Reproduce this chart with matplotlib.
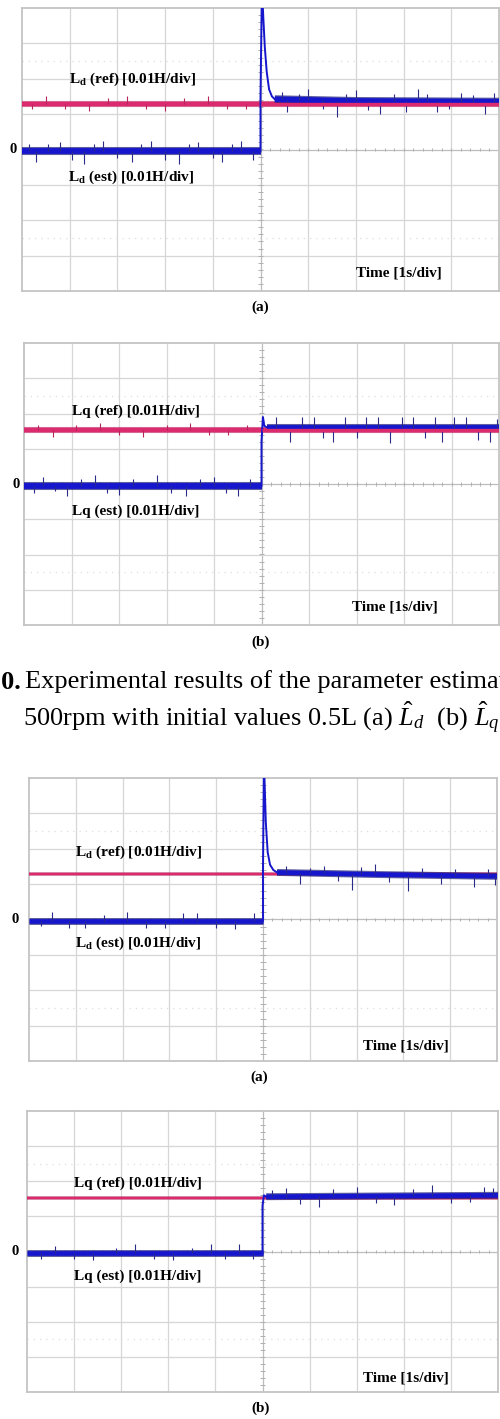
import matplotlib
matplotlib.use("Agg")
import matplotlib.pyplot as plt
import matplotlib.patheffects as pe
import numpy as np

plt.rcParams["font.family"] = ["Liberation Serif", "DejaVu Serif"]
plt.rcParams["mathtext.fontset"] = "custom"
plt.rcParams["mathtext.rm"] = "Liberation Serif"
plt.rcParams["mathtext.it"] = "Liberation Serif:italic"
plt.rcParams["mathtext.bf"] = "Liberation Serif:bold"

REF_COLOR = "#dc2a6e"
REF_EDGE = "#b8245e"
EST_COLOR = "#1616cc"
EST_EDGE = "#1c1c78"
SPIKE_COLOR = "#2a2a88"
GRID_COLOR = "#d6d6d6"

# --- data (levels in divisions, time in seconds = divisions) ---
PANEL_TAGS = ["(a)", "(b)", "(a)", "(b)"]
PANEL_NAMES = ["L$_\\mathbf{d}$", "Lq", "L$_\\mathbf{d}$", "Lq"]

REF_LEVELS = [1.30, 1.53, 1.29, 1.51]

# estimated trace: level before the step, transient after it, settled part
EST_BEFORE = [-0.05, -0.05, -0.03, -0.05]
EST_STEP_T = [
    [5.0, 5.0, 5.03, 5.06, 5.09, 5.13, 5.18, 5.24, 5.30],
    [5.0, 5.0, 5.03, 5.06, 5.12],
    [5.0, 5.0, 5.02, 5.06, 5.10, 5.15, 5.22, 5.30],
    [5.0, 5.0, 5.03, 5.08],
]
EST_STEP_V = [
    [-0.05, 1.5, 4.6, 3.7, 2.9, 2.2, 1.7, 1.5, 1.42],
    [-0.05, 1.2, 1.9, 1.65, 1.60],
    [-0.03, 1.5, 4.5, 2.75, 1.9, 1.55, 1.40, 1.33],
    [-0.05, 1.3, 1.6, 1.56],
]
EST_AFTER_T = [
    [5.30, 7.0, 10.0],
    [5.12, 7.5, 10.0],
    [5.30, 7.5, 10.0],
    [5.08, 7.5, 10.0],
]
EST_AFTER_V = [
    [1.42, 1.37, 1.35],
    [1.60, 1.60, 1.60],
    [1.33, 1.27, 1.22],
    [1.56, 1.58, 1.60],
]

# visible outlier spikes on the estimated trace (t, offset in div)
EST_SPIKES = [
    [(0.15, 0.2), (0.3, -0.3), (0.55, 0.2), (0.8, 0.25), (1.05, -0.25), (1.3, -0.35),
     (1.5, 0.2), (1.7, 0.3), (2.0, -0.2), (2.3, -0.3), (2.5, 0.2), (2.7, 0.3),
     (3.0, -0.25), (3.3, -0.35), (3.5, 0.2), (3.7, 0.25), (4.0, -0.2), (4.2, -0.3),
     (4.4, 0.2), (4.6, 0.3), (4.85, -0.25),
     (5.45, 0.2), (5.55, -0.35), (5.8, 0.15), (6.0, 0.3), (6.3, -0.25), (6.6, -0.45),
     (6.8, 0.2), (7.0, 0.3), (7.25, -0.25), (7.5, -0.35), (7.8, 0.2), (8.05, -0.3),
     (8.3, 0.35), (8.5, 0.2), (8.7, -0.3), (8.95, -0.2), (9.2, 0.25), (9.45, 0.2),
     (9.7, -0.35), (9.9, 0.25)],
    [(0.2, -0.2), (0.4, 0.25), (0.65, -0.15), (0.9, -0.3), (1.2, 0.2), (1.5, 0.3),
     (1.75, -0.2), (2.0, -0.25), (2.3, 0.2), (2.8, 0.3), (3.1, -0.2), (3.4, -0.3),
     (3.7, 0.2), (4.0, 0.25), (4.25, -0.2), (4.5, -0.3), (4.75, 0.2),
     (5.3, 0.3), (5.6, -0.4), (5.85, 0.3), (6.1, 0.3), (6.3, -0.3), (6.5, -0.4),
     (6.75, 0.3), (7.0, -0.3), (7.2, 0.3), (7.45, 0.3), (7.7, -0.45), (7.95, 0.3),
     (8.2, 0.3), (8.45, -0.3), (8.65, 0.3), (8.8, -0.4), (9.05, 0.3), (9.3, 0.3),
     (9.55, -0.35), (9.8, -0.4), (9.95, 0.25)],
    [(0.25, -0.15), (0.5, 0.25), (0.85, -0.2), (1.2, -0.2), (1.6, 0.15), (2.1, 0.25),
     (2.5, -0.2), (2.9, -0.2), (3.3, 0.2), (3.6, 0.2), (4.0, -0.2), (4.4, -0.25),
     (4.8, 0.2),
     (5.5, 0.2), (5.8, -0.3), (6.0, 0.15), (6.3, 0.2), (6.6, -0.2), (6.9, -0.45),
     (7.1, 0.2), (7.4, 0.3), (7.7, -0.2), (8.1, -0.45), (8.4, 0.2), (8.8, -0.25),
     (9.1, 0.2), (9.5, -0.3), (9.8, 0.2), (9.95, -0.25)],
    [(0.3, -0.15), (0.6, 0.2), (1.0, -0.15), (1.4, -0.2), (1.9, 0.15), (2.3, 0.25),
     (2.7, -0.15), (3.1, -0.2), (3.5, 0.15), (3.9, 0.25), (4.2, -0.15), (4.5, 0.25),
     (4.8, -0.15),
     (5.2, 0.2), (5.5, 0.25), (5.8, -0.2), (6.2, -0.3), (6.5, 0.2), (7.0, 0.25),
     (7.4, -0.2), (7.8, -0.25), (8.2, 0.2), (8.6, 0.3), (9.0, -0.2), (9.4, -0.2),
     (9.7, 0.25), (9.9, 0.2)],
]

REF_SPIKES = [
    [(0.2, -0.15), (0.5, 0.2), (0.9, -0.15), (1.4, -0.2), (1.8, 0.15), (2.2, 0.2),
     (2.6, -0.15), (3.0, -0.2), (3.4, 0.15), (3.9, 0.2), (4.3, -0.15), (4.7, -0.15)],
    [(0.3, 0.15), (0.6, -0.2), (1.1, 0.15), (1.6, 0.2), (2.0, -0.15), (2.5, -0.2),
     (3.0, 0.15), (3.5, 0.2), (3.9, -0.15), (4.3, -0.15), (4.7, 0.15)],
    [],
    [],
]

REF_WIDTH = [3.2, 3.2, 1.5, 1.5]
EST_WIDTH = [4.2, 4.2, 3.4, 3.4]

# axes rectangles in figure pixels: left, top, right, bottom
PANEL_BOX = [(22, 8, 499, 291), (24, 343, 499, 625),
             (29, 778, 497, 1061), (27, 1111, 498, 1392)]
TAG_POS = [(260, 307), (261, 642), (259, 1077), (261, 1408)]
REF_LABEL = [(0.99, 1.98), (1.01, 2.07), (0.98, 1.9), (1.0, 1.93)]
EST_LABEL = [(0.96, -0.79), (1.01, -0.76), (0.98, -0.68), (1.0, -0.71)]
TIME_LABEL = [(7.0, -3.5), (6.9, -3.48), (7.13, -3.57), (7.14, -3.6)]
ZERO_X = [-0.19, -0.17, -0.29, -0.25]

W, H = 500, 1419
fig = plt.figure(figsize=(W / 100, H / 100), dpi=100, facecolor="white")

for i in range(4):
    l, t, r, b = PANEL_BOX[i]
    ax = fig.add_axes([l / W, 1 - b / H, (r - l) / W, (b - t) / H])
    ax.set_xlim(0, 10)
    ax.set_ylim(-4, 4)
    ax.set_xticks([])
    ax.set_yticks([])
    for sp in ax.spines.values():
        sp.set_color("#c4c4c4")
        sp.set_linewidth(1.3)

    for x in range(1, 10):
        ax.axvline(x, color=GRID_COLOR if x != 5 else "#bdbdbd", lw=0.9, zorder=1)
    for y in range(-3, 4):
        ax.axhline(y, color=GRID_COLOR if y != 0 else "#bdbdbd", lw=0.9, zorder=1)
    for y in (-2.5, 2.5):
        ax.axhline(y, color="#dedede", lw=0.9, ls=(0, (1, 4)), zorder=1)
    # minor ticks on the centre lines
    ax.hlines(np.arange(-3.8, 4.0, 0.2), 4.94, 5.06, color="#b0b0b0", lw=0.7, zorder=1)
    ax.vlines(np.arange(0.2, 10.0, 0.2), -0.05, 0.05, color="#b0b0b0", lw=0.7, zorder=1)

    ref = REF_LEVELS[i]
    ref_fx = [pe.Stroke(linewidth=REF_WIDTH[i] + 1.2, foreground=REF_EDGE, alpha=0.6), pe.Normal()]
    est_fx = [pe.Stroke(linewidth=EST_WIDTH[i] + 1.6, foreground=EST_EDGE, alpha=0.7), pe.Normal()]

    # reference trace
    ax.plot([0, 10], [ref, ref], color=REF_COLOR, lw=REF_WIDTH[i], solid_capstyle="butt",
            path_effects=ref_fx, zorder=3)
    for st, dv in REF_SPIKES[i]:
        ax.vlines(st, ref, ref + dv, color=REF_EDGE, lw=0.8, zorder=3)

    # estimated trace
    before = EST_BEFORE[i]
    ax.plot([0, 5.0], [before, before], color=EST_COLOR, lw=EST_WIDTH[i],
            solid_capstyle="butt", path_effects=est_fx, zorder=4)
    ax.plot(EST_STEP_T[i], EST_STEP_V[i], color=EST_COLOR, lw=1.4, zorder=4)
    ax.plot(EST_AFTER_T[i], EST_AFTER_V[i], color=EST_COLOR, lw=EST_WIDTH[i],
            solid_capstyle="butt", path_effects=est_fx, zorder=4)
    for st, dv in EST_SPIKES[i]:
        if st < 5.0:
            base = before
        else:
            base = np.interp(st, EST_AFTER_T[i], EST_AFTER_V[i])
        ax.vlines(st, base, base + dv, color=SPIKE_COLOR, lw=0.8, zorder=4)

    # right half of the reference shows through the estimate in the upper pair
    if i < 2:
        ax.plot([5.0, 10], [ref, ref], color=REF_COLOR, lw=REF_WIDTH[i] - 0.8,
                solid_capstyle="butt", zorder=5)

    name = PANEL_NAMES[i]
    ax.text(*REF_LABEL[i], f"{name} (ref) [0.01H/div]", fontsize=11, fontweight="bold",
            va="center", ha="left", zorder=6)
    ax.text(*EST_LABEL[i], f"{name} (est) [0.01H/div]", fontsize=11, fontweight="bold",
            va="center", ha="left", zorder=6)
    ax.text(*TIME_LABEL[i], "Time [1s/div]", fontsize=11, fontweight="bold",
            va="center", ha="left", zorder=6)
    ax.text(ZERO_X[i], 0, "0", fontsize=10.5, fontweight="bold", va="center", ha="center",
            clip_on=False)

    tx, ty = TAG_POS[i]
    fig.text(tx / W, 1 - ty / H, PANEL_TAGS[i], fontsize=11, fontweight="bold",
             ha="center", va="center")

# figure caption between the two groups (cut by the page edge as in the source)
fig.text(21 / W, 1 - 682 / H, "Fig. 10.", fontsize=19, fontweight="bold",
         ha="right", va="center")
fig.text(25 / W, 1 - 682 / H,
         "Experimental results of the parameter estimation", fontsize=19,
         ha="left", va="center")
fig.text(23 / W, 1 - 718 / H,
         "500rpm with initial values 0.5L (a) $\\hat{L}_d$  (b) $\\hat{L}_q$",
         fontsize=19, ha="left", va="center")

fig.savefig("out.png", dpi=100, facecolor="white")
